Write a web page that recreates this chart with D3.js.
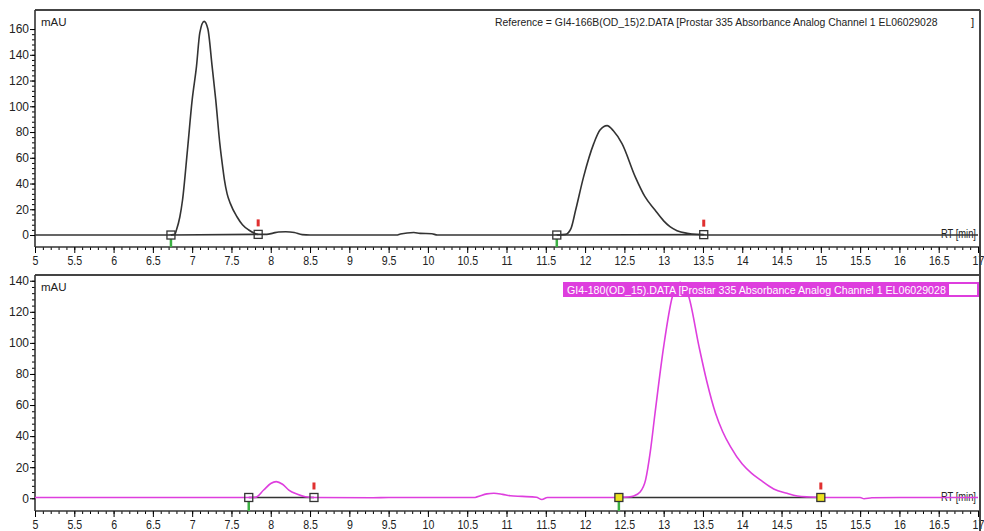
<!DOCTYPE html>
<html>
<head>
<meta charset="utf-8">
<script src="https://cdn.jsdelivr.net/npm/d3@7"></script>
<style>
body{margin:0;background:#fff;}
svg{display:block;font-family:"Liberation Sans Narrow","Liberation Sans",Arial,sans-serif;}
</style>
</head>
<body>
<svg id="chart" width="984" height="531"></svg>
<script>
// reference run (top) - RT [min] / mAU
var topTime   = [5.0, 6.70, 6.78, 6.80, 6.843, 6.877, 6.94, 7.0, 7.055, 7.097, 7.152, 7.2, 7.254, 7.30, 7.352, 7.39, 7.41, 7.445, 7.485, 7.57, 7.64, 7.72, 7.80, 7.84, 7.95, 8.03, 8.10, 8.19, 8.30, 8.40, 8.50, 9.60, 9.65, 9.82, 9.90, 10.05, 10.12, 11.60, 11.75, 11.82, 11.88, 11.98, 12.11, 12.19, 12.28, 12.36, 12.47, 12.64, 12.76, 12.89, 13.0, 13.08, 13.17, 13.30, 13.45, 13.55, 17.0];
var topSignal = [0, 0, 0.5, 3.9, 14, 27, 66, 105, 131, 157, 166, 160, 131, 105, 71, 52, 43, 32, 24.6, 14.2, 8, 3.9, 1.2, 0.5, 0.5, 1.5, 2.4, 2.6, 2, 0.3, 0, 0, 0.8, 2, 1.3, 1, 0, 0, 0.5, 5, 19.4, 45, 71, 81.5, 85, 81, 71, 45, 30, 19.4, 11, 6.5, 3.4, 1.3, 0.3, 0, 0];

// sample run (bottom)
var bottomTime   = [5.0, 7.70, 7.805, 7.91, 8.0, 8.07, 8.15, 8.23, 8.34, 8.44, 8.55, 9.30, 9.50, 10.60, 10.66, 10.75, 10.84, 10.95, 11.05, 11.20, 11.38, 11.45, 11.52, 12.43, 12.55, 12.62, 12.70, 12.77, 12.83, 12.89, 13.0, 13.11, 13.21, 13.32, 13.45, 13.55, 13.66, 13.75, 13.85, 14.0, 14.12, 14.23, 14.40, 14.57, 14.70, 14.85, 15.0, 15.50, 15.55, 15.65, 16.0, 17.0];
var bottomSignal = [0.5, 0.5, 0.6, 5.3, 9.5, 10.7, 9, 5.3, 2.6, 1.0, 0.5, 0.3, 0.5, 0.5, 1.5, 2.8, 3.2, 2.5, 1.6, 1.2, 0.6, -0.8, 0.5, 0.5, 0.8, 1.5, 4, 11.8, 30, 54.7, 97.6, 129.7, 139, 129.7, 97.6, 75, 54.7, 43, 33.2, 22, 16, 11.8, 6, 3.2, 1.5, 0.8, 0.5, 0.5, -0.3, 0.3, 0.5, 0.5];

// integration marks (start / end of each peak)
var topMarkTime  = [6.73, 7.84, 11.64, 13.51];
var topMarkLevel = [0, 0.5, 0, 0.3];
var topMarkFill  = ['none', 'none', 'none', 'none'];
var bottomMarkTime  = [7.72, 8.55, 12.43, 15.0];
var bottomMarkLevel = [0.5, 0.5, 0.5, 0.5];
var bottomMarkFill  = ['none', 'none', '#ece21e', '#ece21e'];

// tick labels
var xTicks = [5, 5.5, 6, 6.5, 7, 7.5, 8, 8.5, 9, 9.5, 10, 10.5, 11, 11.5, 12, 12.5, 13, 13.5, 14, 14.5, 15, 15.5, 16, 16.5, 17];
var xTickLabels = ['5', '5.5', '6', '6.5', '7', '7.5', '8', '8.5', '9', '9.5', '10', '10.5', '11', '11.5', '12', '12.5', '13', '13.5', '14', '14.5', '15', '15.5', '16', '16.5', '17'];
var yTicksTop = [0, 20, 40, 60, 80, 100, 120, 140, 160];
var yTicksBottom = [0, 20, 40, 60, 80, 100, 120, 140];

var topTitle = 'Reference = GI4-166B(OD_15)2.DATA [Prostar 335 Absorbance Analog Channel 1 EL06029028';
var bottomTitle = 'GI4-180(OD_15).DATA [Prostar 335 Absorbance Analog Channel 1 EL06029028';

var magenta = '#de3ede';
var svg = d3.select('#chart');

var x = d3.scaleLinear().domain([5, 17]).range([35, 978]);
var xMinor = d3.range(50, 171).map(function(d){ return d / 10; });

// squeeze a text into a given width (the original font is condensed)
var fitText = function(sel, tx, ty, width) {
	sel.attr('x', 0).attr('y', 0);
	var w = sel.node().getComputedTextLength();
	sel.attr('transform', 'translate(' + tx + ',' + ty + ') scale(' + (width / w) + ',1)');
};

var panels = [
	{time: topTime, signal: topSignal, color: '#333', yTicks: yTicksTop, yDomain: [-9.3, 174.8], top: 10, bottom: 247,
		markTime: topMarkTime, markLevel: topMarkLevel, markFill: topMarkFill},
	{time: bottomTime, signal: bottomSignal, color: magenta, yTicks: yTicksBottom, yDomain: [-8.2, 143.7], top: 275, bottom: 511,
		markTime: bottomMarkTime, markLevel: bottomMarkLevel, markFill: bottomMarkFill}
];

panels.forEach(function(p, pi){
	var y = d3.scaleLinear().domain(p.yDomain).range([p.bottom, p.top]);
	var g = svg.append('g');

	// top frame line
	g.append('line')
		.attr('x1', 35).attr('x2', 980)
		.attr('y1', p.top).attr('y2', p.top)
		.attr('stroke', '#444').attr('stroke-width', 2);

	// x axis - minor then major
	g.append('g')
		.attr('transform', 'translate(0,' + p.bottom + ')')
		.call(d3.axisBottom(x).tickValues(xMinor).tickSize(3).tickSizeOuter(0).tickFormat(''))
		.call(function(a){ a.select('.domain').remove(); });
	var xa = g.append('g')
		.attr('transform', 'translate(0,' + p.bottom + ')')
		.call(d3.axisBottom(x).tickValues(xTicks).tickSize(6).tickSizeOuter(0).tickPadding(3)
			.tickFormat(function(d, i){ return xTickLabels[i]; }));
	xa.select('.domain').attr('stroke', '#333').attr('stroke-width', 1.6).attr('d', 'M35,0H980');
	xa.selectAll('text').attr('font-size', 12.5).attr('fill', '#222')
		.attr('transform', 'scale(0.85,1)');

	// y axis - minor then major
	var yMinor = d3.range(0, p.yTicks[p.yTicks.length - 1] + 1, 4);
	g.append('g')
		.attr('transform', 'translate(35,0)')
		.call(d3.axisLeft(y).tickValues(yMinor).tickSize(3).tickSizeOuter(0).tickFormat(''))
		.call(function(a){ a.select('.domain').remove(); });
	var ya = g.append('g')
		.attr('transform', 'translate(35,0)')
		.call(d3.axisLeft(y).tickValues(p.yTicks).tickSize(5).tickSizeOuter(0).tickPadding(1));
	ya.select('.domain').attr('stroke', '#333').attr('stroke-width', 1.6)
		.attr('d', 'M0,' + p.top + 'V' + p.bottom);
	ya.selectAll('text').attr('font-size', 12).attr('fill', '#222');

	g.append('text')
		.attr('x', 41).attr('y', p.top + 16)
		.attr('font-size', 11.5).attr('fill', '#222')
		.text('mAU');

	var rt = g.append('text')
		.attr('font-size', 12).attr('fill', '#222')
		.text('RT [min]');
	fitText(rt, 941, y(0) + 3, 35);

	// integration baselines
	for (var k = 0; k < p.markTime.length; k += 2) {
		g.append('line')
			.attr('x1', x(p.markTime[k])).attr('x2', x(p.markTime[k + 1]))
			.attr('y1', y(p.markLevel[k])).attr('y2', y(p.markLevel[k + 1]))
			.attr('stroke', '#333').attr('stroke-width', 1.6);
	}

	// chromatogram trace
	var line = d3.line()
		.x(function(d, i){ return x(p.time[i]); })
		.y(function(d){ return y(d); })
		.curve(d3.curveMonotoneX);
	g.append('path')
		.attr('d', line(p.signal))
		.attr('fill', 'none')
		.attr('stroke', p.color)
		.attr('stroke-width', 1.6);

	// start / end markers
	p.markTime.forEach(function(t, i){
		var cx = x(t), cy = y(p.markLevel[i]);
		if (i % 2 === 0) {
			g.append('line')
				.attr('x1', cx).attr('x2', cx)
				.attr('y1', cy + 4).attr('y2', p.bottom)
				.attr('stroke', '#3cb043').attr('stroke-width', 2.5);
		} else {
			g.append('rect')
				.attr('x', cx - 1.5).attr('y', cy - 15)
				.attr('width', 3).attr('height', 7)
				.attr('fill', '#e03030');
		}
		g.append('rect')
			.attr('x', cx - 4).attr('y', cy - 4)
			.attr('width', 8).attr('height', 8)
			.attr('fill', p.markFill[i])
			.attr('stroke', '#333').attr('stroke-width', 1.3);
	});

	// run title
	if (pi === 0) {
		var t1 = g.append('text')
			.attr('font-size', 11.5).attr('fill', '#222')
			.text(topTitle);
		fitText(t1, 495, 26, 443);
		g.append('text')
			.attr('x', 971).attr('y', 26)
			.attr('font-size', 11.5).attr('fill', '#222')
			.text(']');
	} else {
		g.append('rect')
			.attr('x', 564).attr('y', 283)
			.attr('width', 385).attr('height', 13)
			.attr('fill', magenta);
		g.append('rect')
			.attr('x', 564).attr('y', 283)
			.attr('width', 414).attr('height', 13)
			.attr('fill', 'none')
			.attr('stroke', magenta).attr('stroke-width', 2);
		var t2 = g.append('text')
			.attr('font-size', 11.5).attr('fill', '#fff')
			.text(bottomTitle);
		fitText(t2, 567, 294, 379);
	}
});

// right frame edge
svg.append('line')
	.attr('x1', 980).attr('x2', 980)
	.attr('y1', 10).attr('y2', 531)
	.attr('stroke', '#444').attr('stroke-width', 2);
</script>
</body>
</html>
